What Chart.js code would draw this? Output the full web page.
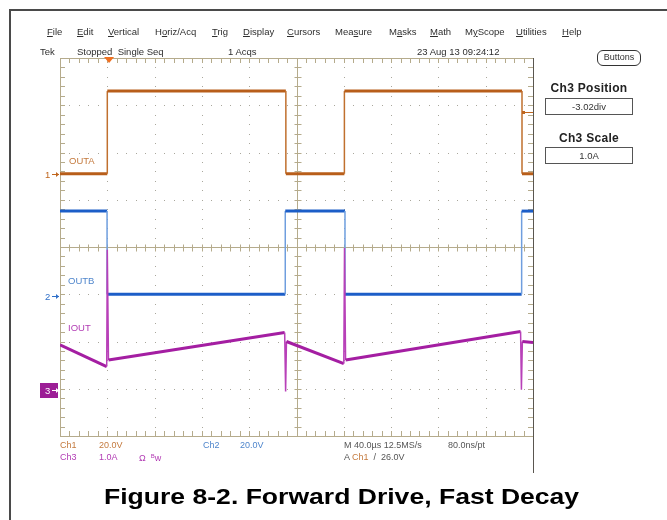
<!DOCTYPE html>
<html>
<head>
<meta charset="utf-8">
<script src="https://cdn.jsdelivr.net/npm/chart.js@4.4.1/dist/chart.umd.min.js"></script>
<style>
  html, body { margin: 0; padding: 0; background: #fff; }
  #wrap { position: relative; width: 667px; height: 520px; overflow: hidden; font-family: "Liberation Sans", Arial, sans-serif; }
  #scope { position: absolute; left: 0; top: 0; }
  .t { position: absolute; white-space: nowrap; line-height: 1; }
  .menu { top: 27px; font-size: 9.5px; color: #2e2e2e; }
  .stat { top: 47px; font-size: 9.5px; color: #2e2e2e; }
  .rd1 { top: 441px; font-size: 9px; }
  .rd2 { top: 453px; font-size: 9px; }
  .c1 { color: #c47a3e; }
  .c2 { color: #4f86cc; }
  .c3 { color: #b23cb4; }
  .gr { color: #555; }
  .line { position: absolute; background: #4a4a4a; }
  .box { position: absolute; border: 1px solid #555; box-sizing: border-box; text-align: center; font-size: 9.5px; color: #333; }
  .hdr { position: absolute; font-weight: bold; font-size: 12px; color: #222; text-align: center; width: 120px; letter-spacing: 0.3px; }
  u { text-decoration: underline; text-underline-offset: 1px; }
  sup { font-size: 6px; vertical-align: 3px; }
</style>
</head>
<body>
<div id="wrap">
  <canvas id="scope" width="667" height="520"></canvas>

  <div class="line" style="left:9px;top:9px;width:658px;height:1.5px;"></div>
  <div class="line" style="left:9px;top:9px;width:1.5px;height:511px;"></div>
  <div class="line" style="left:533px;top:58px;width:1.2px;height:415px;background:#5a5650;"></div>

  <div class="t menu" style="left:47px"><u>F</u>ile</div>
  <div class="t menu" style="left:77px"><u>E</u>dit</div>
  <div class="t menu" style="left:108px"><u>V</u>ertical</div>
  <div class="t menu" style="left:155px">H<u>o</u>riz/Acq</div>
  <div class="t menu" style="left:212px"><u>T</u>rig</div>
  <div class="t menu" style="left:243px"><u>D</u>isplay</div>
  <div class="t menu" style="left:287px"><u>C</u>ursors</div>
  <div class="t menu" style="left:335px">Mea<u>s</u>ure</div>
  <div class="t menu" style="left:389px">M<u>a</u>sks</div>
  <div class="t menu" style="left:430px"><u>M</u>ath</div>
  <div class="t menu" style="left:465px">M<u>y</u>Scope</div>
  <div class="t menu" style="left:516px"><u>U</u>tilities</div>
  <div class="t menu" style="left:562px"><u>H</u>elp</div>

  <div class="t stat" style="left:40px">Tek</div>
  <div class="t stat" style="left:77px">Stopped&nbsp; Single Seq</div>
  <div class="t stat" style="left:228px">1 Acqs</div>
  <div class="t stat" style="left:417px">23 Aug 13 09:24:12</div>

  <div class="box" style="left:597px;top:50px;width:44px;height:16px;border:1.5px solid #333;border-radius:6px;line-height:13px;font-size:9px;">Buttons</div>
  <div class="hdr" style="left:529px;top:81px;">Ch3 Position</div>
  <div class="box" style="left:545px;top:98px;width:88px;height:17px;line-height:15px;">-3.02div</div>
  <div class="hdr" style="left:529px;top:131px;">Ch3 Scale</div>
  <div class="box" style="left:545px;top:147px;width:88px;height:17px;line-height:15px;">1.0A</div>

  <div class="t c1" style="left:69px;top:156px;font-size:9.5px;">OUTA</div>
  <div class="t c2" style="left:68px;top:276px;font-size:9.5px;">OUTB</div>
  <div class="t c3" style="left:68px;top:323px;font-size:9.5px;">IOUT</div>

  <div class="t rd1 c1" style="left:60px">Ch1</div>
  <div class="t rd1 c1" style="left:99px">20.0V</div>
  <div class="t rd1 c2" style="left:203px">Ch2</div>
  <div class="t rd1 c2" style="left:240px">20.0V</div>
  <div class="t rd1 gr" style="left:344px">M 40.0µs 12.5MS/s</div>
  <div class="t rd1 gr" style="left:448px">80.0ns/pt</div>
  <div class="t rd2 c3" style="left:60px">Ch3</div>
  <div class="t rd2 c3" style="left:99px">1.0A</div>
  <div class="t rd2 c3" style="left:139px">Ω&nbsp;&nbsp;<sup>B</sup>w</div>
  <div class="t rd2 gr" style="left:344px">A <span class="c1">Ch1</span>&nbsp; /&nbsp; 26.0V</div>

  <div class="t" style="left:104px;top:486px;font-size:22.5px;font-weight:bold;color:#000;transform:scaleX(1.18);transform-origin:0 0;">Figure 8-2. Forward Drive, Fast Decay</div>
</div>

<script>
// time axis: 10 divisions at 40 us/div
const timeMin = 0;
const timeMax = 400;
const timePerDiv = 40;

// channel settings (scale per div, position in div from centre)
const ch1Scale = 20, ch1Pos = 1.55;
const ch2Scale = 20, ch2Pos = -1.04;
const ch3Scale = 1, ch3Pos = -3.02;
const trigTime = 41.5;
const trigLevel = 26;

// OUTA (V)
const outaTime = [0, 40, 40, 191, 191, 240.5, 240.5, 390.7, 390.7, 400];
const outaVolts = [0, 0, 35, 35, 0, 0, 35, 35, 0, 0];

// OUTB (V)
const outbTime = [0, 39.8, 39.8, 190.5, 190.5, 241, 241, 390.4, 390.4, 400];
const outbVolts = [36, 36, 0.8, 0.8, 36, 36, 0.8, 0.8, 36, 36];

// IOUT (A)
const ioutTime = [0, 39.5, 40, 41, 190, 190.8, 191.5, 240, 240.6, 241.5, 389.5, 390.2, 391, 400];
const ioutAmps = [0.95, 0.49, 2.96, 0.63, 1.21, -0.04, 1.02, 0.55, 3.0, 0.63, 1.23, 0.0, 1.02, 1.0];

const GRID = '#b5ab8c';

function pts(xs, ys) {
  return xs.map((x, i) => ({ x, y: ys[i] }));
}

function trace(label, xs, ys, axis, color, edgeColor, order) {
  const isEdge = (c) => Math.abs(c.p1.parsed.x - c.p0.parsed.x) < 2;
  return {
    label,
    data: pts(xs, ys),
    yAxisID: axis,
    borderColor: color,
    borderWidth: 3,
    pointRadius: 0,
    tension: 0,
    order,
    segment: {
      borderColor: (c) => (isEdge(c) ? edgeColor : color),
      borderWidth: (c) => (isEdge(c) ? 1.5 : 3),
    },
  };
}

const graticule = {
  id: 'graticule',
  beforeDatasetsDraw(chart) {
    const { ctx, chartArea: a, scales: { x, y } } = chart;
    ctx.save();
    ctx.fillStyle = '#a9a79c';
    // dotted division lines
    for (let t = timeMin + timePerDiv; t < timeMax; t += timePerDiv) {
      if (t === 200) continue;
      const px = Math.round(x.getPixelForValue(t));
      for (let s = 1; s < 40; s++) ctx.fillRect(px, Math.round(y.getPixelForValue(-4 + s * 0.2)), 1, 1);
    }
    for (let d = -3; d <= 3; d++) {
      if (d === 0) continue;
      const py = Math.round(y.getPixelForValue(d));
      for (let s = 1; s < 50; s++) ctx.fillRect(Math.round(x.getPixelForValue(s * 8)), py, 1, 1);
    }
    ctx.strokeStyle = GRID;
    ctx.lineWidth = 1;
    const cx = Math.round(x.getPixelForValue(200)) + 0.5;
    const cy = Math.round(y.getPixelForValue(0)) + 0.5;
    ctx.beginPath();
    ctx.moveTo(a.left, cy); ctx.lineTo(a.right, cy);
    ctx.moveTo(cx, a.top); ctx.lineTo(cx, a.bottom);
    // ticks on centre lines and border
    for (let s = 1; s < 50; s++) {
      const px = Math.round(x.getPixelForValue(s * 8)) + 0.5;
      ctx.moveTo(px, cy - 3); ctx.lineTo(px, cy + 4);
      ctx.moveTo(px, a.top); ctx.lineTo(px, a.top + 5);
      ctx.moveTo(px, a.bottom); ctx.lineTo(px, a.bottom - 5);
    }
    for (let s = 1; s < 40; s++) {
      const py = Math.round(y.getPixelForValue(-4 + s * 0.2)) + 0.5;
      ctx.moveTo(cx - 3, py); ctx.lineTo(cx + 4, py);
      ctx.moveTo(a.left, py); ctx.lineTo(a.left + 5, py);
      ctx.moveTo(a.right, py); ctx.lineTo(a.right - 5, py);
    }
    ctx.stroke();
    ctx.strokeRect(Math.round(a.left) + 0.5, Math.round(a.top) + 0.5, Math.round(a.right - a.left), Math.round(a.bottom - a.top));
    ctx.restore();
  },
  afterDatasetsDraw(chart) {
    const { ctx, chartArea: a, scales } = chart;
    ctx.save();
    ctx.font = '9.5px "Liberation Sans", Arial, sans-serif';
    ctx.textBaseline = 'middle';
    const marker = (scale, num, color, boxed) => {
      const py = Math.round(scale.getPixelForValue(0)) + 0.5;
      if (boxed) {
        ctx.fillStyle = color;
        ctx.fillRect(a.left - 20, py - 7.5, 18, 15);
        ctx.fillStyle = '#fff';
        ctx.strokeStyle = '#fff';
      } else {
        ctx.fillStyle = color;
        ctx.strokeStyle = color;
      }
      ctx.fillText(num, a.left - 15, py + 0.5);
      ctx.lineWidth = 1;
      ctx.beginPath();
      ctx.moveTo(a.left - 8, py); ctx.lineTo(a.left - 1, py);
      ctx.stroke();
      ctx.beginPath();
      ctx.moveTo(a.left - 1, py); ctx.lineTo(a.left - 4, py - 2.5); ctx.lineTo(a.left - 4, py + 2.5);
      ctx.closePath();
      ctx.fill();
    };
    marker(scales.y1, '1', '#c0661e', false);
    marker(scales.y2, '2', '#2f6fc8', false);
    marker(scales.y3, '3', '#9c1e96', true);
    // trigger position
    const tx = scales.x.getPixelForValue(trigTime);
    ctx.fillStyle = '#f07020';
    ctx.beginPath();
    ctx.moveTo(tx - 5, a.top - 1); ctx.lineTo(tx + 5, a.top - 1); ctx.lineTo(tx, a.top + 5);
    ctx.closePath();
    ctx.fill();
    // trigger level
    const ty = Math.round(scales.y1.getPixelForValue(trigLevel)) + 0.5;
    ctx.strokeStyle = '#c0661e';
    ctx.beginPath();
    ctx.moveTo(a.right - 11, ty); ctx.lineTo(a.right, ty);
    ctx.stroke();
    ctx.fillStyle = '#c0661e';
    ctx.fillRect(a.right - 11, ty - 1.5, 3, 3);
    ctx.restore();
  },
};

const chAxis = (scale, pos) => ({ display: false, min: (-4 - pos) * scale, max: (4 - pos) * scale });

new Chart(document.getElementById('scope').getContext('2d'), {
  type: 'line',
  data: {
    datasets: [
      trace('IOUT', ioutTime, ioutAmps, 'y3', '#a41ea2', '#b840b8', 0),
      trace('OUTB', outbTime, outbVolts, 'y2', '#1c5ec8', '#6f9ede', 1),
      trace('OUTA', outaTime, outaVolts, 'y1', '#b85e1a', '#c0702e', 2),
    ],
  },
  options: {
    responsive: false,
    animation: false,
    devicePixelRatio: 1,
    layout: { padding: { left: 60, top: 58, right: 134, bottom: 84 } },
    plugins: { legend: { display: false }, tooltip: { enabled: false } },
    scales: {
      x: { type: 'linear', display: false, min: timeMin, max: timeMax },
      y: { display: false, min: -4, max: 4 },
      y1: chAxis(ch1Scale, ch1Pos),
      y2: chAxis(ch2Scale, ch2Pos),
      y3: chAxis(ch3Scale, ch3Pos),
    },
  },
  plugins: [graticule],
});
</script>
</body>
</html>
